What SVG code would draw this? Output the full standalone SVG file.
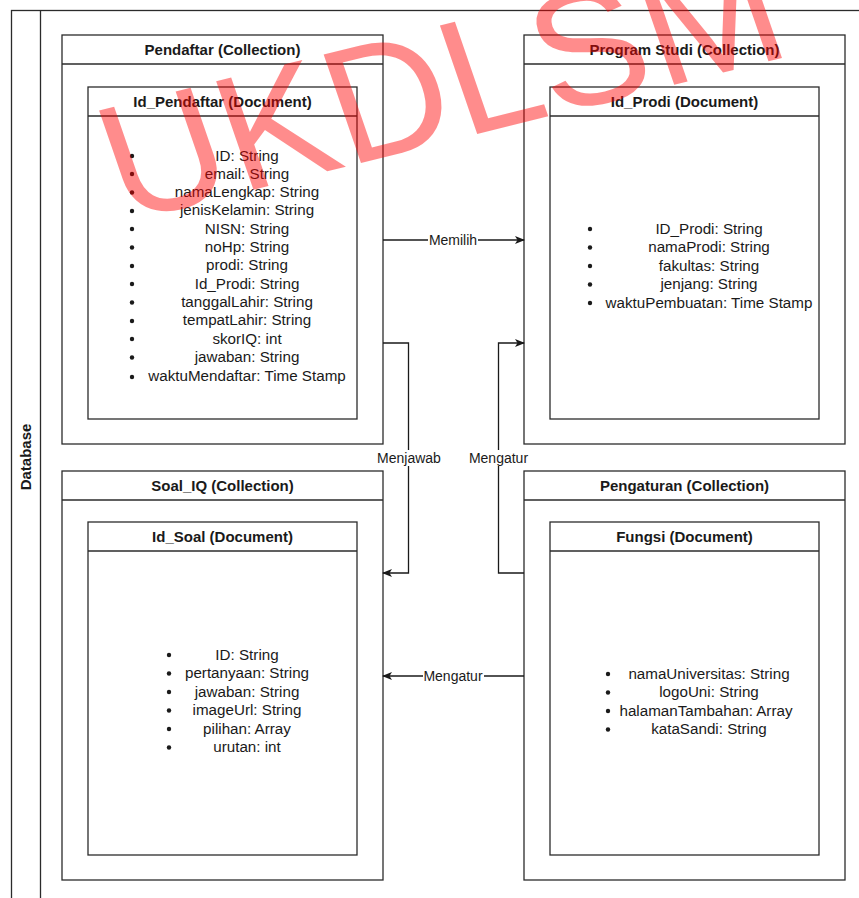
<svg xmlns="http://www.w3.org/2000/svg" width="859" height="898" viewBox="0 0 859 898">
<defs>
<style>
.frame{fill:none;stroke:#2b2b2b;stroke-width:1.3}
.box{fill:#fff;stroke:#2b2b2b;stroke-width:1.3}
.hd{font-family:"Liberation Sans",Arial,sans-serif;font-size:15px;font-weight:bold;fill:#1a1a1a;text-anchor:middle}
.it{font-family:"Liberation Sans",Arial,sans-serif;font-size:15.2px;fill:#1a1a1a;text-anchor:middle}
.lbl{font-family:"Liberation Sans",Arial,sans-serif;font-size:14px;fill:#1a1a1a;text-anchor:middle}
.bul{fill:#1a1a1a}
.edge{fill:none;stroke:#1a1a1a;stroke-width:1.3}
.lbg{fill:#fff}
.wm{font-family:"Liberation Sans",Arial,sans-serif;font-size:166px;fill:#ff0000;fill-opacity:0.45}
</style>
<marker id="arr" viewBox="0 0 10 8" refX="9" refY="4" markerWidth="10" markerHeight="8" markerUnits="userSpaceOnUse" orient="auto">
<path d="M0,0 L10,4 L0,8 L2.5,4 z" fill="#1a1a1a"/>
</marker>
</defs>

<g id="database">
<rect class="frame" x="11.5" y="10.5" width="900" height="920"/>
<line class="frame" x1="40.5" y1="10.5" x2="40.5" y2="898"/>
<text class="hd" transform="translate(31,457) rotate(-90)">Database</text>
</g>

<g id="pendaftar">
<rect class="box" x="62" y="35" width="321" height="409"/>
<line class="frame" x1="62" y1="64" x2="383" y2="64"/>
<text class="hd" x="222.5" y="55">Pendaftar (Collection)</text>
<g id="id_pendaftar">
<rect class="box" x="88" y="87" width="269" height="332"/>
<line class="frame" x1="88" y1="116" x2="357" y2="116"/>
<text class="hd" x="222.5" y="106.5">Id_Pendaftar (Document)</text>
<g class="bul">
<circle cx="132" cy="156" r="2.2"/><circle cx="132" cy="174" r="2.2"/><circle cx="132" cy="192.5" r="2.2"/><circle cx="132" cy="211" r="2.2"/><circle cx="132" cy="229" r="2.2"/><circle cx="132" cy="247.5" r="2.2"/><circle cx="132" cy="266" r="2.2"/><circle cx="132" cy="284" r="2.2"/><circle cx="132" cy="302.5" r="2.2"/><circle cx="132" cy="321" r="2.2"/><circle cx="132" cy="339" r="2.2"/><circle cx="132" cy="357.5" r="2.2"/><circle cx="132" cy="377" r="2.2"/>
</g>
<text class="it" x="247" y="160.5">ID: String</text>
<text class="it" x="247" y="178.5">email: String</text>
<text class="it" x="247" y="197">namaLengkap: String</text>
<text class="it" x="247" y="215">jenisKelamin: String</text>
<text class="it" x="247" y="233.5">NISN: String</text>
<text class="it" x="247" y="251.5">noHp: String</text>
<text class="it" x="247" y="270">prodi: String</text>
<text class="it" x="247" y="288.5">Id_Prodi: String</text>
<text class="it" x="247" y="306.5">tanggalLahir: String</text>
<text class="it" x="247" y="325">tempatLahir: String</text>
<text class="it" x="247" y="343.5">skorIQ: int</text>
<text class="it" x="247" y="361.5">jawaban: String</text>
<text class="it" x="247" y="381">waktuMendaftar: Time Stamp</text>
</g>
</g>

<g id="program_studi">
<rect class="box" x="524" y="35" width="321" height="409"/>
<line class="frame" x1="524" y1="64" x2="845" y2="64"/>
<text class="hd" x="684.5" y="55">Program Studi (Collection)</text>
<g id="id_prodi">
<rect class="box" x="550" y="87" width="269" height="332"/>
<line class="frame" x1="550" y1="116" x2="819" y2="116"/>
<text class="hd" x="684.5" y="106.5">Id_Prodi (Document)</text>
<g class="bul">
<circle cx="590" cy="229" r="2.2"/><circle cx="590" cy="247.5" r="2.2"/><circle cx="590" cy="266" r="2.2"/><circle cx="590" cy="284.5" r="2.2"/><circle cx="590" cy="303" r="2.2"/>
</g>
<text class="it" x="709" y="233.5">ID_Prodi: String</text>
<text class="it" x="709" y="252">namaProdi: String</text>
<text class="it" x="709" y="270.5">fakultas: String</text>
<text class="it" x="709" y="289">jenjang: String</text>
<text class="it" x="709" y="307.5">waktuPembuatan: Time Stamp</text>
</g>
</g>

<g id="soal_iq">
<rect class="box" x="62" y="471" width="321" height="409"/>
<line class="frame" x1="62" y1="500" x2="383" y2="500"/>
<text class="hd" x="222.5" y="491">Soal_IQ (Collection)</text>
<g id="id_soal">
<rect class="box" x="88" y="522" width="269" height="333"/>
<line class="frame" x1="88" y1="551" x2="357" y2="551"/>
<text class="hd" x="222.5" y="541.5">Id_Soal (Document)</text>
<g class="bul">
<circle cx="169" cy="655" r="2.2"/><circle cx="169" cy="673.5" r="2.2"/><circle cx="169" cy="692" r="2.2"/><circle cx="169" cy="710.5" r="2.2"/><circle cx="169" cy="729" r="2.2"/><circle cx="169" cy="747.5" r="2.2"/>
</g>
<text class="it" x="247" y="659.5">ID: String</text>
<text class="it" x="247" y="678">pertanyaan: String</text>
<text class="it" x="247" y="696.5">jawaban: String</text>
<text class="it" x="247" y="715">imageUrl: String</text>
<text class="it" x="247" y="733.5">pilihan: Array</text>
<text class="it" x="247" y="752">urutan: int</text>
</g>
</g>

<g id="pengaturan">
<rect class="box" x="524" y="471" width="321" height="409"/>
<line class="frame" x1="524" y1="500" x2="845" y2="500"/>
<text class="hd" x="684.5" y="491">Pengaturan (Collection)</text>
<g id="fungsi">
<rect class="box" x="550" y="522" width="269" height="333"/>
<line class="frame" x1="550" y1="551" x2="819" y2="551"/>
<text class="hd" x="684.5" y="541.5">Fungsi (Document)</text>
<g class="bul">
<circle cx="608" cy="674" r="2.2"/><circle cx="608" cy="692.5" r="2.2"/><circle cx="608" cy="711" r="2.2"/><circle cx="608" cy="729.5" r="2.2"/>
</g>
<text class="it" x="709" y="678.5">namaUniversitas: String</text>
<text class="it" x="709" y="697">logoUni: String</text>
<text class="it" x="706" y="715.5">halamanTambahan: Array</text>
<text class="it" x="709" y="734">kataSandi: String</text>
</g>
</g>

<g id="connectors">
<path class="edge" d="M383,240 L524,240" marker-end="url(#arr)"/>
<path class="edge" d="M383,343 L408.5,343 L408.5,573 L383,573" marker-end="url(#arr)"/>
<path class="edge" d="M524,573 L498.5,573 L498.5,343 L524,343" marker-end="url(#arr)"/>
<path class="edge" d="M524,676 L383,676" marker-end="url(#arr)"/>
<rect class="lbg" x="428" y="232" width="50" height="16"/>
<text class="lbl" x="453" y="245">Memilih</text>
<rect class="lbg" x="376" y="450" width="66" height="16"/>
<text class="lbl" x="409" y="463">Menjawab</text>
<rect class="lbg" x="468" y="450" width="61" height="16"/>
<text class="lbl" x="498.5" y="463">Mengatur</text>
<rect class="lbg" x="423" y="668" width="61" height="16"/>
<text class="lbl" x="453" y="681">Mengatur</text>
</g>

<g id="watermark">
<text class="wm" transform="translate(124,222) rotate(-14) skewX(5)">UKDLSM</text>
</g>
</svg>
